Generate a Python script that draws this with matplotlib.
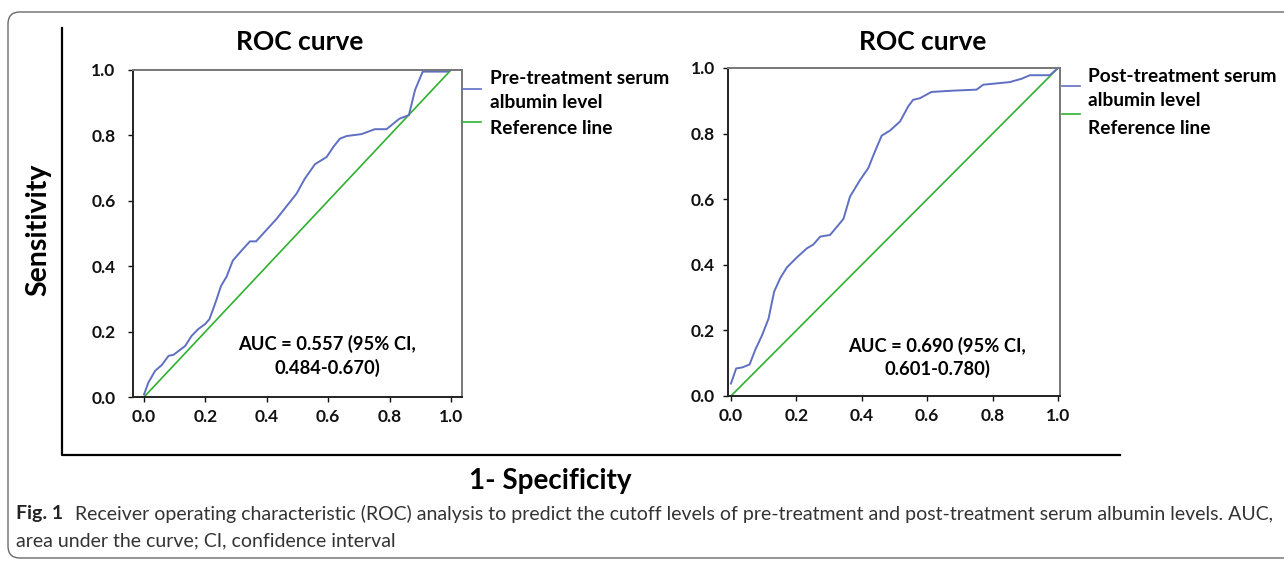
import matplotlib
matplotlib.use("Agg")
import matplotlib.pyplot as plt
from matplotlib.lines import Line2D
from matplotlib.patches import FancyBboxPatch
from matplotlib.transforms import IdentityTransform

# ROC data
pre_fpr = [0.0, 0.014, 0.036, 0.058, 0.08, 0.096, 0.134, 0.155, 0.177, 0.199, 0.213, 0.231,
           0.251, 0.269, 0.289, 0.318, 0.345, 0.365, 0.432, 0.497, 0.524, 0.557, 0.595,
           0.617, 0.638, 0.66, 0.709, 0.752, 0.79, 0.832, 0.863, 0.883, 0.908, 0.986, 1.0]
pre_tpr = [0.008, 0.044, 0.08, 0.098, 0.126, 0.129, 0.156, 0.187, 0.208, 0.223, 0.238, 0.284,
           0.34, 0.368, 0.417, 0.448, 0.476, 0.476, 0.545, 0.622, 0.668, 0.712, 0.734,
           0.765, 0.79, 0.798, 0.804, 0.819, 0.819, 0.851, 0.862, 0.939, 0.995, 0.995, 1.0]

post_fpr = [0.0, 0.016, 0.034, 0.057, 0.074, 0.095, 0.115, 0.132, 0.151, 0.171, 0.201, 0.232,
            0.252, 0.273, 0.303, 0.324, 0.344, 0.364, 0.395, 0.42, 0.44, 0.461, 0.486,
            0.517, 0.542, 0.557, 0.578, 0.613, 0.68, 0.751, 0.771, 0.852, 0.888, 0.914,
            0.975, 1.0]
post_tpr = [0.038, 0.084, 0.087, 0.096, 0.14, 0.185, 0.236, 0.318, 0.36, 0.392, 0.422, 0.45,
            0.462, 0.486, 0.491, 0.516, 0.54, 0.608, 0.659, 0.695, 0.745, 0.794, 0.809,
            0.837, 0.883, 0.903, 0.908, 0.927, 0.931, 0.934, 0.949, 0.957, 0.967, 0.978,
            0.978, 1.0]

ref_line = [0.0, 1.0]
ticks = [0.0, 0.2, 0.4, 0.6, 0.8, 1.0]
tick_labels = ["0.0", "0.2", "0.4", "0.6", "0.8", "1.0"]
title_text = "ROC curve"
legend_curve = ["Pre-treatment serum\nalbumin level", "Post-treatment serum\nalbumin level"]
legend_ref = "Reference line"
auc_labels = ["AUC = 0.557 (95% CI,\n0.484-0.670)", "AUC = 0.690 (95% CI,\n0.601-0.780)"]
caption_bold = "Fig. 1"
caption_line1 = ("Receiver operating characteristic (ROC) analysis to predict the cutoff levels "
                 "of pre-treatment and post-treatment serum albumin levels. AUC,")
caption_line2 = "area under the curve; CI, confidence interval"

BLUE = "#5f6fc2"
GREEN = "#2fb02f"
FONT = "Lato"

W, H = 1284, 561
plt.rcParams["font.family"] = [FONT, "DejaVu Sans"]
fig = plt.figure(figsize=(W / 100, H / 100), dpi=100)


def fx(x):
    return x / W


def fy(y):
    return 1 - y / H


def px_rect(x0, y0, x1, y1):
    return [fx(x0), fy(y1), (x1 - x0) / W, (y1 - y0) / H]


# outer rounded frame of the figure panel
frame = FancyBboxPatch((8, 3), 1320, 546, boxstyle="round,pad=0,rounding_size=12",
                       transform=IdentityTransform(), fill=False, ec="#6a6a6a", lw=1.0)
fig.add_artist(frame)

# big shared L-shaped axis
fig.add_artist(Line2D([fx(62), fx(62), fx(1120)], [fy(28), fy(455), fy(455)],
                      transform=fig.transFigure, color="black", lw=1.6))
fig.text(fx(38), fy(230), "Sensitivity", rotation=90, ha="center", va="center",
         fontsize=20.5, fontweight="bold")
fig.text(fx(550), fy(481), "1- Specificity", ha="center", va="center",
         fontsize=20, fontweight="bold")

panels = [
    dict(rect=px_rect(133, 70, 462, 397), xlim=(-0.036, 1.036), fpr=pre_fpr, tpr=pre_tpr,
         title_x=300, auc_xy=(0.596, 0.125), leg_seg=(462, 481), leg_blue=89, leg_green=122,
         leg_text_x=490, leg_y=(78, 103, 129), ypad=9),
    dict(rect=px_rect(728, 68, 1060, 396), xlim=(-0.009, 1.006), fpr=post_fpr, tpr=post_tpr,
         title_x=923, auc_xy=(0.63, 0.117), leg_seg=(1062, 1080), leg_blue=86, leg_green=114,
         leg_text_x=1088, leg_y=(76, 100, 129), ypad=6),
]

for i, p in enumerate(panels):
    ax = fig.add_axes(p["rect"])
    ax.plot(ref_line, ref_line, color=GREEN, lw=1.2, clip_on=False)
    ax.plot(p["fpr"], p["tpr"], color=BLUE, lw=1.4, clip_on=False)
    ax.set_xlim(*p["xlim"])
    ax.set_ylim(0, 1)
    ax.set_xticks(ticks)
    ax.set_xticklabels(tick_labels)
    ax.set_yticks(ticks)
    ax.set_yticklabels(tick_labels)
    ax.tick_params(direction="out", length=3.5, width=1.0, labelsize=12.5, colors="#111111")
    ax.tick_params(axis="y", pad=p["ypad"])
    ax.tick_params(axis="x", pad=5)
    for lab in ax.get_xticklabels() + ax.get_yticklabels():
        lab.set_fontweight("bold")
    for side in ["left", "bottom"]:
        ax.spines[side].set_color("#222222")
        ax.spines[side].set_linewidth(1.4)
    for side in ["top", "right"]:
        ax.spines[side].set_color("#777777")
        ax.spines[side].set_linewidth(1.4)
    ax.text(p["auc_xy"][0], p["auc_xy"][1], auc_labels[i], ha="center", va="center",
            fontsize=13.2, fontweight="bold", linespacing=1.35)

    fig.text(fx(p["title_x"]), fy(42), title_text, ha="center", va="center",
             fontsize=19, fontweight="bold")
    # legend drawn by hand outside the axes
    x0, x1 = p["leg_seg"]
    fig.add_artist(Line2D([fx(x0), fx(x1)], [fy(p["leg_blue"])] * 2,
                          transform=fig.transFigure, color=BLUE, lw=1.2))
    fig.add_artist(Line2D([fx(x0), fx(x1)], [fy(p["leg_green"])] * 2,
                          transform=fig.transFigure, color=GREEN, lw=1.2))
    name1, name2 = legend_curve[i].split("\n")
    for txt, yy in zip([name1, name2, legend_ref], p["leg_y"]):
        fig.text(fx(p["leg_text_x"]), fy(yy), txt, ha="left", va="center",
                 fontsize=13.8, fontweight="bold")

# caption
fig.text(fx(16), fy(514), caption_bold, ha="left", va="center", fontsize=14,
         fontweight="bold", color="#222222")
fig.text(fx(75), fy(514), caption_line1, ha="left", va="center", fontsize=14,
         color="#333333")
fig.text(fx(16), fy(541), caption_line2, ha="left", va="center", fontsize=14,
         color="#333333")

fig.savefig("out.png", dpi=100, facecolor="white")
